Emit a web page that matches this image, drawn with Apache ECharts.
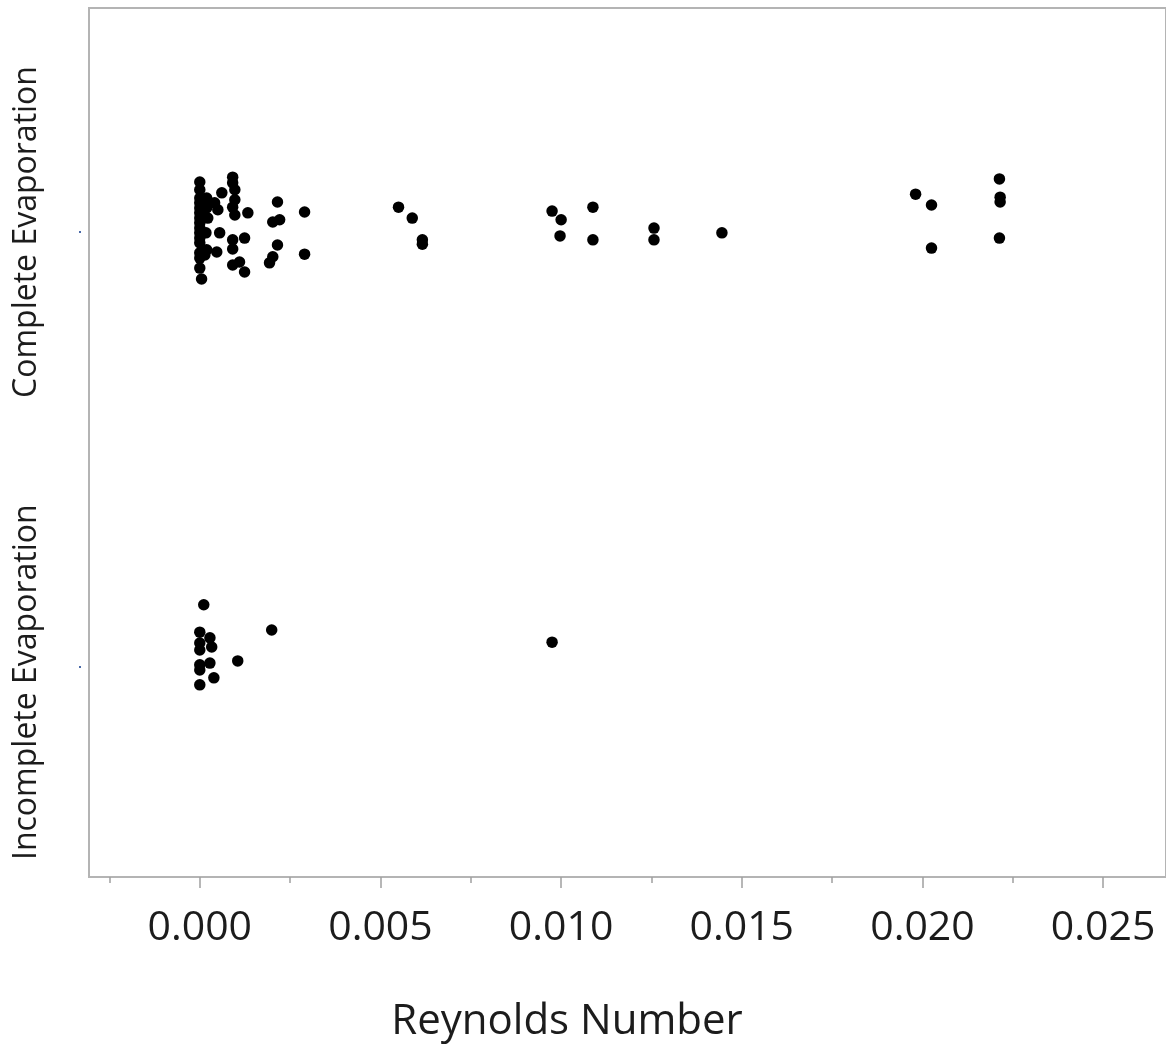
<!DOCTYPE html>
<html>
<head>
<meta charset="utf-8">
<script src="https://cdn.jsdelivr.net/npm/echarts@6/dist/echarts.min.js"></script>
<style>
html,body{margin:0;padding:0;background:#fff;}
#chart{width:1166px;height:1045px;}
</style>
</head>
<body>
<div id="chart"></div>
<script>
// Categories (index 0 = bottom, index 1 = top)
const categories = ['Incomplete Evaporation', 'Complete Evaporation'];

// Complete Evaporation: Reynolds number and jitter offset within the category band
const completeRe = [
  0.00000, 0.00000, 0.00000, 0.00000, 0.00000, 0.00000, 0.00000, 0.00000,
  0.00000, 0.00000, 0.00000, 0.00000, 0.00000, 0.00000, 0.00000, 0.00005,
  0.00019, 0.00019, 0.00022, 0.00017, 0.00019, 0.00014,
  0.00061, 0.00041, 0.00050, 0.00055, 0.00047,
  0.00091, 0.00091, 0.00097, 0.00097, 0.00091, 0.00097, 0.00091, 0.00091, 0.00091,
  0.00124, 0.00124, 0.00133, 0.00110,
  0.00215, 0.00202, 0.00221, 0.00215, 0.00202, 0.00193,
  0.00290, 0.00290,
  0.00550, 0.00588, 0.00616, 0.00616,
  0.00975, 0.01000, 0.00997, 0.01088, 0.01088, 0.01257, 0.01257, 0.01445,
  0.01981, 0.02025, 0.02025, 0.02213, 0.02215, 0.02215, 0.02213
];
const completeJitter = [
  0.115, 0.097, 0.078, 0.067, 0.055, 0.044, 0.032, 0.021,
  0.009, -0.002, -0.014, -0.025, -0.048, -0.060, -0.083, -0.108,
  0.078, 0.055, 0.032, -0.002, -0.041, -0.053,
  0.090, 0.067, 0.051, -0.002, -0.046,
  0.126, 0.113, 0.097, 0.074, 0.057, 0.039, -0.018, -0.039, -0.076,
  -0.014, -0.092, 0.044, -0.069,
  0.069, 0.023, 0.028, -0.030, -0.057, -0.071,
  0.046, -0.051,
  0.057, 0.032, -0.018, -0.028,
  0.048, 0.028, -0.009, 0.057, -0.018, 0.009, -0.018, -0.002,
  0.087, 0.062, -0.037, 0.122, 0.080, 0.069, -0.014
];

// Incomplete Evaporation
const incompleteRe = [
  0.00011, 0.00000, 0.00028, 0.00000, 0.00033, 0.00000, 0.00000,
  0.00028, 0.00000, 0.00039, 0.00000, 0.00105, 0.00199, 0.00975
];
const incompleteJitter = [
  0.143, 0.080, 0.067, 0.055, 0.046, 0.039, 0.005,
  0.009, -0.007, -0.025, -0.041, 0.014, 0.085, 0.057
];

// Axis ticks
const xTickLabels = [0, 0.005, 0.010, 0.015, 0.020, 0.025];
const xMinorTicks = [-0.0025, 0.0025, 0.0075, 0.0125, 0.0175, 0.0225];
const yLabelPositions = [-0.035, 1];   // label anchors (Incomplete label sits a little low)
const xTitle = 'Reynolds Number';

function build(reArr, jitArr, catIndex) {
  return reArr.map((v, i) => [v, catIndex + jitArr[i]]);
}

const X_MIN = -0.003066, X_MAX = 0.02674;
const Y_MIN = -0.4828, Y_MAX = 1.5149;
const GRAY = '#b4b4b4';
const TXT = '#1c1c1c';

const chart = echarts.init(document.getElementById('chart'));
chart.setOption({
  backgroundColor: '#ffffff',
  animation: false,
  grid: {
    left: 89, top: 8, right: -2, bottom: 168,
    show: true, borderColor: GRAY, borderWidth: 2, backgroundColor: 'transparent'
  },
  xAxis: [{
    type: 'value', min: X_MIN, max: X_MAX, position: 'bottom',
    axisLine: { show: true, onZero: false, lineStyle: { color: GRAY, width: 2 } },
    axisTick: { show: true, customValues: xTickLabels, length: 11, lineStyle: { color: '#a0a0a0', width: 1.5 } },
    axisLabel: {
      customValues: xTickLabels, margin: 31,
      fontFamily: 'Open Sans', fontSize: 41, color: TXT,
      formatter: v => v.toFixed(3)
    },
    splitLine: { show: false }
  }, {
    type: 'value', min: X_MIN, max: X_MAX, position: 'bottom',
    axisLine: { show: false, onZero: false },
    axisTick: { show: true, customValues: xMinorTicks, length: 6, lineStyle: { color: '#a0a0a0', width: 1.5 } },
    axisLabel: { show: false },
    splitLine: { show: false }
  }],
  yAxis: [{
    type: 'value', min: Y_MIN, max: Y_MAX,
    axisLine: { show: true, onZero: false, lineStyle: { color: GRAY, width: 2 } },
    axisTick: { show: false },
    axisLabel: {
      customValues: yLabelPositions, rotate: 90, margin: 46,
      fontFamily: 'Open Sans', fontSize: 32, color: TXT,
      formatter: v => categories[Math.round(v)]
    },
    splitLine: { show: false }
  }, {
    type: 'value', min: Y_MIN, max: Y_MAX, position: 'left', offset: 8,
    axisLine: { show: false, onZero: false },
    axisTick: { show: true, customValues: [0, 1], length: 2, lineStyle: { color: '#4a6aa8', width: 2 } },
    axisLabel: { show: false },
    splitLine: { show: false }
  }],
  graphic: [{
    type: 'text', z: 10,
    style: {
      text: xTitle, x: 567, y: 1022, textAlign: 'center', textVerticalAlign: 'middle',
      fontFamily: 'Open Sans', fontSize: 42, fill: TXT
    }
  }],
  series: [{
    type: 'scatter', name: categories[1], symbolSize: 11.5,
    itemStyle: { color: '#000000', opacity: 1 },
    data: build(completeRe, completeJitter, 1)
  }, {
    type: 'scatter', name: categories[0], symbolSize: 11.5,
    itemStyle: { color: '#000000', opacity: 1 },
    data: build(incompleteRe, incompleteJitter, 0)
  }]
});
</script>
</body>
</html>
